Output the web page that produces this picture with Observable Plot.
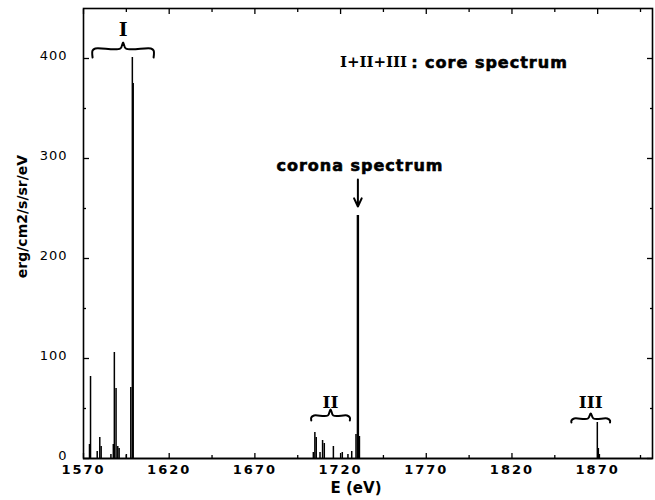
<!DOCTYPE html>
<html><head><meta charset="utf-8">
<script src="https://cdn.jsdelivr.net/npm/d3@7"></script>
<script src="https://cdn.jsdelivr.net/npm/@observablehq/plot@0.6"></script>
<style>body{margin:0;background:#fff}</style>
</head><body><div id="chart"></div>
<script>
// core spectrum lines (E in eV, intensity in erg/cm2/s/sr/eV)
const coreE = [1573.5, 1574.1, 1578.0, 1579.5, 1580.3, 1586.0, 1587.4, 1588.0, 1589.0, 1590.0, 1590.8, 1595.0, 1597.6, 1598.5, 1599.0,
               1704.1, 1705.0, 1705.8, 1708.0, 1709.5, 1710.5, 1715.8, 1721.0, 1724.3, 1726.5, 1729.0, 1731.0,
               1869.8, 1870.4, 1871.0];
const coreV = [14, 82, 7, 21, 12, 4, 14, 106, 70, 12, 10, 4, 71, 401, 375,
               6, 26, 21, 6, 18, 15, 12, 6, 4, 7, 24, 22,
               36, 10, 4];
// corona spectrum line
const coronaE = [1730.1];
const coronaV = [243];

const xMajor = [1570, 1620, 1670, 1720, 1770, 1820, 1870];
const xMinor = [1595, 1645, 1695, 1745, 1795, 1845, 1895];
const yMajor = [0, 100, 200, 300, 400];
const yMinor = [50, 150, 250, 350];

// brace annotations
const braceLabels = ["I", "II", "III"];
const braceStart = [1575.3, 1702.9, 1854.7];
const braceEnd = [1610.9, 1725.4, 1877.2];
const braceFootY = [401, 38, 36];
const braceBarY = [410, 43, 40];
const braceTipY = [416, 49, 45];
const braceLabelY = [429, 56, 56];
const braceLabelSize = [19, 17, 17];

const core = coreE.map((E, i) => ({E, v: coreV[i]}));
const corona = coronaE.map((E, i) => ({E, v: coronaV[i]}));

const bracePts = [];
braceLabels.forEach((lab, i) => {
  const x1 = braceStart[i], x2 = braceEnd[i], xm = (x1 + x2) / 2, k = 1.6;
  const yE = braceFootY[i], yH = braceBarY[i], yT = braceTipY[i];
  [[x1, yE], [x1, yH - 2], [x1 + k, yH], [xm - k, yH], [xm, yT], [xm + k, yH], [x2 - k, yH], [x2, yH - 2], [x2, yE]]
    .forEach(([x, y]) => bracePts.push({g: lab, x, y}));
});
const braceText = braceLabels.map((t, i) => ({t, x: (braceStart[i] + braceEnd[i]) / 2, y: braceLabelY[i], s: braceLabelSize[i]}));

const arrowX = [1730.1], arrowFrom = [279], arrowTo = [252];
const arrows = arrowX.map((x, i) => ({x, y1: arrowFrom[i], y2: arrowTo[i]}));

const sans = "'DejaVu Sans', sans-serif";
const serif = "'DejaVu Serif', serif";

const tickAxes = (ticks, size) => [
  Plot.axisX(ticks, {anchor: "bottom", tickSize: size, dy: -size, tickFormat: () => "", label: null, strokeWidth: 1.3}),
  Plot.axisX(ticks, {anchor: "top", tickSize: size, dy: size, tickFormat: () => "", label: null, strokeWidth: 1.3})
];
const tickAxesY = (ticks, size) => [
  Plot.axisY(ticks, {anchor: "left", tickSize: size, dx: size, tickFormat: () => "", label: null, strokeWidth: 1.3}),
  Plot.axisY(ticks, {anchor: "right", tickSize: size, dx: -size, tickFormat: () => "", label: null, strokeWidth: 1.3})
];

const heavy = {fontFamily: sans, fontWeight: "bold", stroke: "#000", strokeWidth: 0.6, fill: "#000"};

const chart = Plot.plot({
  width: 655, height: 500,
  marginLeft: 83, marginRight: 3, marginTop: 8, marginBottom: 42,
  style: {fontFamily: sans, background: "#fff", color: "#000"},
  x: {domain: [1570, 1902]},
  y: {domain: [0, 450]},
  marks: [
    Plot.ruleX(core, {x: "E", y1: 0, y2: "v", stroke: "#000", strokeWidth: 1.5}),
    Plot.ruleX(corona, {x: "E", y1: 0, y2: "v", stroke: "#000", strokeWidth: 2.4}),
    Plot.ruleY([0], {stroke: "#000", strokeWidth: 1.5}),
    ...tickAxes(xMajor, 5), ...tickAxes(xMinor, 3),
    ...tickAxesY(yMajor, 6), ...tickAxesY(yMinor, 3),
    Plot.axisX(xMajor, {anchor: "bottom", tickSize: 0, tickPadding: 6, fontSize: 13, fontWeight: "bold", label: null, tickFormat: d => String(d)}),
    Plot.axisY(yMajor, {anchor: "left", tickSize: 0, tickPadding: 16, dy: -3, fontSize: 13, label: null, tickFormat: d => String(d)}),
    Plot.frame({stroke: "#000", strokeWidth: 1.6}),
    Plot.line(bracePts, {x: "x", y: "y", z: "g", stroke: "#000", strokeWidth: 2, curve: "catmull-rom"}),
    Plot.text(braceText, {x: "x", y: "y", text: "t", fontSize: d => d.s, fontFamily: serif, fontWeight: "bold", fill: "#000"}),
    Plot.text(["I+II+III"], {x: 1760, y: 396, text: d => d, textAnchor: "end", dx: -2, fontSize: 15, fontFamily: serif, fontWeight: "bold"}),
    Plot.text([": core spectrum"], {x: 1760, y: 396, text: d => d, textAnchor: "start", dx: 2, fontSize: 16, ...heavy}),
    Plot.text(["corona spectrum"], {x: 1731.3, y: 293, text: d => d, fontSize: 16, ...heavy}),
    Plot.arrow(arrows, {x: "x", y1: "y1", y2: "y2", stroke: "#000", strokeWidth: 2, headLength: 8, headAngle: 50}),
    Plot.text(["E (eV)"], {x: 1729, frameAnchor: "bottom", dy: 34, text: d => d, fontSize: 15, fontWeight: "bold"}),
    Plot.text(["erg/cm2/s/sr/eV"], {y: 242, frameAnchor: "left", textAnchor: "middle", dx: -61, rotate: -90, text: d => d, fontSize: 14, fontWeight: "bold"})
  ]
});
document.getElementById("chart").appendChild(chart);
chart.querySelectorAll('g[aria-label="x-axis tick label"] text').forEach(t => t.style.letterSpacing = "2px");
chart.querySelectorAll('g[aria-label="y-axis tick label"] text').forEach(t => t.style.letterSpacing = "1px");
chart.querySelectorAll('g[aria-label="text"] text').forEach(t => {
  if (t.textContent === ": core spectrum" || t.textContent === "corona spectrum") t.style.letterSpacing = "1px";
});
</script>
</body></html>
